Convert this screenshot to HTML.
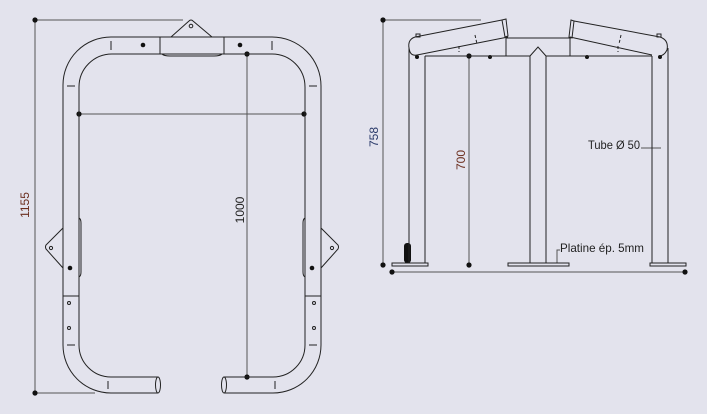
<!DOCTYPE html>
<html><head><meta charset="utf-8"><style>
html,body{margin:0;padding:0;background:#e3e3ed;}
svg{display:block}
text{font-family:"Liberation Sans",sans-serif;font-size:12px}
</style></head><body>
<svg width="707" height="414" viewBox="0 0 707 414" xmlns="http://www.w3.org/2000/svg">
<rect width="707" height="414" fill="#e3e3ed"/>
<!-- LEFT FIGURE -->
<g fill="none" stroke="#555" stroke-width="1">
  <line x1="35" y1="20" x2="35" y2="393"/>
  <line x1="35" y1="20" x2="183" y2="20"/>
  <line x1="35" y1="393" x2="95" y2="393"/>
  <line x1="247" y1="54" x2="247" y2="378"/>
  <line x1="79" y1="114" x2="304" y2="114"/>
</g>
<g fill="#111">
  <circle cx="35" cy="20" r="2.6"/><circle cx="35" cy="393" r="2.6"/>
  <circle cx="247" cy="54" r="2.6"/><circle cx="247" cy="377" r="2.6"/>
  <circle cx="79" cy="114" r="2.6"/><circle cx="304" cy="114" r="2.6"/>
  <circle cx="143" cy="45" r="2.3"/><circle cx="240" cy="45" r="2.3"/>
  <circle cx="70" cy="268" r="2.3"/><circle cx="312" cy="268" r="2.3"/>
</g>
<g fill="none" stroke="#222" stroke-width="1">
  <path d="M63,345 L63,85 A48,48 0 0 1 111,37 L272,37 A49,49 0 0 1 321,86 L321,345 A48,48 0 0 1 273,393 L224,393"/>
  <path d="M158,393 L111,393 A48,48 0 0 1 63,345"/>
  <path d="M79,345 L79,87 A33,33 0 0 1 112,54 L272,54 A33,33 0 0 1 305,87 L305,345 A32,32 0 0 1 273,377 L224,377"/>
  <path d="M158,377 L111,377 A32,32 0 0 1 79,345"/>
  <ellipse cx="158" cy="385" rx="2.5" ry="8"/>
  <ellipse cx="224" cy="385" rx="2.5" ry="8"/>
  <path d="M160,37 L160,54 M224,37 L224,54"/>
  <path d="M162,54 Q164,56 170,56 L214,56 Q220,56 222,54"/>
  <path d="M171,37 L189,21 Q191,19 193,21 L212,37"/>
  <circle cx="191" cy="26" r="1.8"/>
  <path d="M111,41 V50 M272,41 V50 M67,86 H75 M309,86 H317 M67,345 H75 M309,345 H317 M108,381 V389 M275,381 V389"/>
  <path d="M63,296 H79 M305,296 H321"/>
  <circle cx="69" cy="303" r="1.5"/><circle cx="69" cy="328" r="1.5"/>
  <circle cx="314" cy="303" r="1.5"/><circle cx="314" cy="328" r="1.5"/>
  <path d="M63,228 L46,245 Q45,247 46,249 L63,268"/>
  <circle cx="51" cy="248" r="1.6"/>
  <path d="M321,228 L338,245 Q339,247 338,249 L321,268"/>
  <circle cx="332" cy="248" r="1.6"/>
  <path d="M79,218 Q81,219 81,223 L81,272 Q81,276 79,277"/>
  <path d="M305,218 Q303,219 303,223 L303,272 Q303,276 305,277"/>
</g>
<text x="0" y="0" fill="#6b2e1e" transform="translate(29,205) rotate(-90)" text-anchor="middle">1155</text>
<text x="0" y="0" fill="#222" transform="translate(244,210) rotate(-90)" text-anchor="middle">1000</text>

<!-- RIGHT FIGURE -->
<g fill="none" stroke="#555" stroke-width="1">
  <line x1="383" y1="20" x2="383" y2="265"/>
  <line x1="383" y1="20" x2="481" y2="20"/>
  <line x1="392" y1="272" x2="685" y2="272"/>
  <line x1="469" y1="56" x2="469" y2="265"/>
  <line x1="641" y1="148" x2="661" y2="148"/>
  <path d="M557,263 V250 H560"/>
</g>
<g fill="#111">
  <circle cx="383" cy="20" r="2.6"/><circle cx="383" cy="265" r="2.6"/>
  <circle cx="392" cy="272" r="2.6"/><circle cx="685" cy="272" r="2.6"/>
  <circle cx="469" cy="56" r="2.6"/><circle cx="469" cy="265" r="2.6"/>
  <circle cx="417" cy="57" r="2"/><circle cx="490" cy="57" r="2"/>
  <circle cx="587" cy="57" r="2"/><circle cx="660" cy="57" r="2"/>
  <rect x="404" y="243" width="7" height="20" rx="3"/>
</g>
<g fill="none" stroke="#222" stroke-width="1">
  <path d="M409,48 V263 M425,56 V263"/>
  <path d="M652,56 V263 M668,48 V263"/>
  <path d="M530,263 V56 M546,263 V56 M530,56 L538,47 L546,56"/>
  <path d="M425,56 H530 M546,56 H652"/>
  <path d="M506,38 H571 M506,38 V56 M570,38 V56"/>
  <path d="M392,263 H428 V266 H392 Z M508,263 H569 V266 H508 Z M650,263 H686 V266 H650 Z"/>
  <path d="M415,37 L502,20 M417,55 L508,37 M415,37 Q406,40 410,52 Q412,56 417,55"/>
  <path d="M502,20 L506,19 L508,36 L505,37 Z"/>
  <path d="M475,35 L477,44 M459,46 V52" stroke-dasharray="3,2"/>
  <rect x="416" y="34" width="4" height="3"/>
  <path d="M574,21 L660,37 M570,37 L652,55 M660,37 Q669,40 667,50 Q664,56 659,56"/>
  <path d="M571,20 L574,21 L572,38 L569,37 Z"/>
  <path d="M621,35 L619,44 M618,46 V52" stroke-dasharray="3,2"/>
  <rect x="657" y="34" width="4" height="3"/>
</g>
<text x="0" y="0" fill="#2a3a6a" transform="translate(378,137) rotate(-90)" text-anchor="middle">758</text>
<text x="0" y="0" fill="#6b2e1e" transform="translate(465,160) rotate(-90)" text-anchor="middle">700</text>
<text x="588" y="149" fill="#222" textLength="52" lengthAdjust="spacingAndGlyphs">Tube Ø 50</text>
<text x="560" y="252" fill="#222" textLength="84" lengthAdjust="spacingAndGlyphs">Platine ép. 5mm</text>
</svg>
</body></html>
